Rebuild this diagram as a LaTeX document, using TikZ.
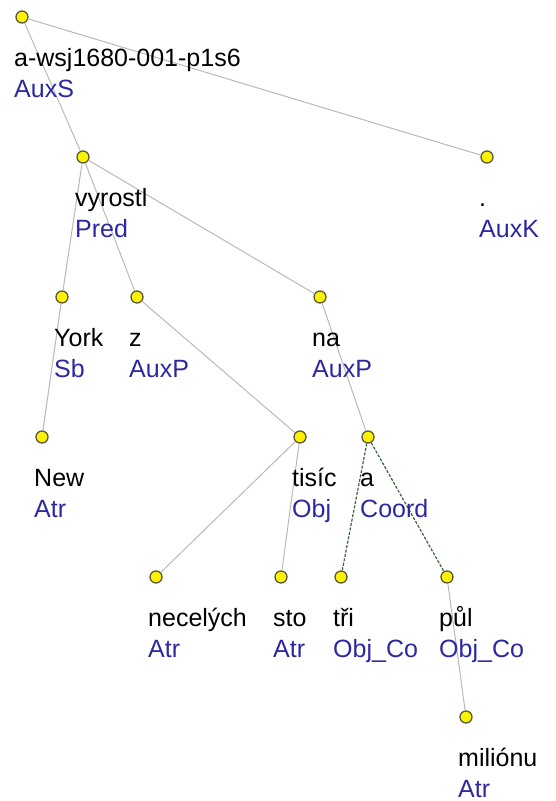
\documentclass[tikz,border=0pt]{standalone}
\usepackage{fontspec}
\setmainfont{Liberation Sans}
\definecolor{funcblue}{RGB}{45,40,160}
\definecolor{edgegray}{RGB}{185,185,185}
\definecolor{coordgreen}{RGB}{60,100,60}
\definecolor{dotborder}{RGB}{90,90,60}
\begin{document}
\begin{tikzpicture}[x=1pt,y=-1pt,
  dot/.style={circle,draw=dotborder,fill=yellow,line width=1.3pt,minimum size=12pt,inner sep=0pt},
  wordlbl/.style={anchor=base west,inner sep=0pt,font=\fontsize{25}{29}\selectfont,text=black},
  funclbl/.style={anchor=base west,inner sep=0pt,font=\fontsize{25}{29}\selectfont,text=funcblue},
  edge/.style={draw=edgegray,line width=1pt},
  coordedge/.style={draw=coordgreen,line width=1.2pt,dash pattern=on 3pt off 1.5pt}]
\useasboundingbox (0,0) rectangle (555,801);
% dots
\foreach \n/\x/\y in {root/22/17, vyrostl/83/157, dotk/487/157, york/62/297, z/137/297, na/320/297,
  new/42/437, tisic/300/437, a/368/437, necelych/156/577, sto/281/577, tri/341/577, pul/447/577, milionu/466/717}
  {\node[dot] (\n) at (\x,\y) {};}
% edges
\draw[edge] (root) -- (vyrostl);
\draw[edge] (root) -- (dotk);
\draw[edge] (vyrostl) -- (york);
\draw[edge] (vyrostl) -- (z);
\draw[edge] (vyrostl) -- (na);
\draw[edge] (york) -- (new);
\draw[edge] (z) -- (tisic);
\draw[edge] (na) -- (a);
\draw[edge] (tisic) -- (necelych);
\draw[edge] (tisic) -- (sto);
\draw[coordedge] (a) -- (tri);
\draw[coordedge] (a) -- (pul);
\draw[edge] (pul) -- (milionu);
% labels
\foreach \n/\x/\y/\w/\f in {root/22/17/a-wsj1680-001-p1s6/AuxS, vyrostl/83/157/vyrostl/Pred, dotk/487/157/./AuxK,
  york/62/297/York/Sb, z/137/297/z/AuxP, na/320/297/na/AuxP, new/42/437/New/Atr, tisic/300/437/tisíc/Obj,
  a/368/437/a/Coord, necelych/156/577/necelých/Atr, sto/281/577/sto/Atr, tri/341/577/tři/Obj\_Co,
  pul/447/577/půl/Obj\_Co, milionu/466/717/miliónu/Atr}
  {\node[wordlbl] (\n-w) at (\x-8,\y+49) {\w};
   \node[funclbl] (\n-f) at (\x-8,\y+80) {\f};}
\end{tikzpicture}
\end{document}
